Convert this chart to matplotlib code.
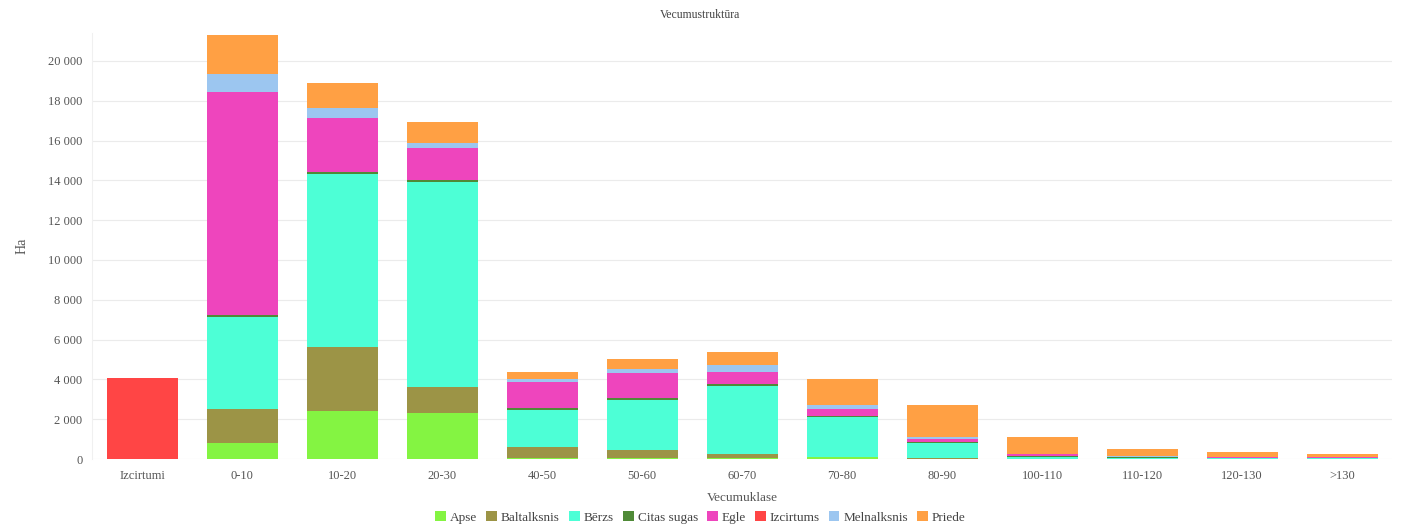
import numpy as np
import matplotlib
matplotlib.use("Agg")
import matplotlib.pyplot as plt
from matplotlib.ticker import FuncFormatter
from matplotlib.patches import Patch

categories = ["Izcirtumi", "0-10", "10-20", "20-30", "40-50", "50-60", "60-70",
              "70-80", "80-90", "100-110", "110-120", "120-130", ">130"]

apse        = [0,  820, 2420, 2310,   50,   30,   30,   80,   20,    0,    0,    0,    0]
baltalksnis = [0, 1690, 3200, 1290,  540,  420,  200,   30,   20,   10,   10,   10,   10]
berzs       = [0, 4600, 8720,10320, 1880, 2530, 3460, 2000,  780,  110,   30,   20,   20]
citas_sugas = [0,  100,  100,  100,   70,   70,   80,   60,   50,   40,   40,   30,   20]
egle        = [0,11220, 2680, 1590, 1310, 1280,  590,  340,  120,   80,   40,   30,   30]
izcirtums   = [4050, 0,    0,    0,    0,    0,    0,    0,    0,    0,    0,    0,    0]
melnalksnis = [0,  890,  510,  250,  180,  200,  340,  200,  140,   20,   10,   10,    0]
priede      = [0, 1970, 1260, 1090,  330,  470,  690, 1330, 1560,  870,  370,  240,  170]

series = [
    ("Apse", apse, "#84f442"),
    ("Baltalksnis", baltalksnis, "#9c9446"),
    ("Bērzs", berzs, "#4dffd6"),
    ("Citas sugas", citas_sugas, "#4f8a37"),
    ("Egle", egle, "#ee45bd"),
    ("Izcirtums", izcirtums, "#ff4545"),
    ("Melnalksnis", melnalksnis, "#9cc6f0"),
    ("Priede", priede, "#ffa044"),
]

plt.rcParams['font.family'] = ['Liberation Serif', 'DejaVu Serif']

fig = plt.figure(figsize=(14.01, 5.29), dpi=100)
ax = fig.add_axes([0.0657, 0.1323, 0.928, 0.8053])

x = np.arange(len(categories))
bottom = np.zeros(len(categories))
for name, vals, col in series:
    v = np.array(vals, dtype=float)
    ax.bar(x, v, 0.71, bottom=bottom, color=col, linewidth=0, zorder=2)
    bottom += v

ax.set_xlim(-0.5, len(categories) - 0.5)
ax.set_ylim(0, 21400)
ax.set_yticks(np.arange(0, 20001, 2000))
ax.yaxis.set_major_formatter(FuncFormatter(lambda v, p: f"{int(v):,}".replace(",", " ")))
ax.set_xticks(x)
ax.set_xticklabels(categories)
ax.tick_params(axis="both", length=0, labelsize=9, colors="#555555")
ax.tick_params(axis="x", pad=8)
ax.tick_params(axis="y", pad=7)
ax.grid(axis="y", color="#ebebeb", linewidth=0.8, zorder=0)
for s in ["top", "right", "bottom"]:
    ax.spines[s].set_visible(False)
ax.spines["left"].set_color("#f0f0f0")

ax.set_ylabel("Ha", fontsize=10, color="#555555", labelpad=14)
ax.set_xlabel("Vecumuklase", fontsize=9.5, color="#555555", labelpad=7)
fig.text(0.5, 0.972, "Vecumustruktūra", ha="center", va="center", fontsize=8.5, color="#444444")

handles = [Patch(facecolor=c, edgecolor="none", label=n) for n, _, c in series]
fig.legend(handles=handles, loc="center", bbox_to_anchor=(0.5, 0.022), ncol=8,
           frameon=False, fontsize=9.5, handlelength=0.8, handleheight=0.8,
           handletextpad=0.3, columnspacing=0.7, labelcolor="#444444")

fig.savefig("out.png", dpi=100)
